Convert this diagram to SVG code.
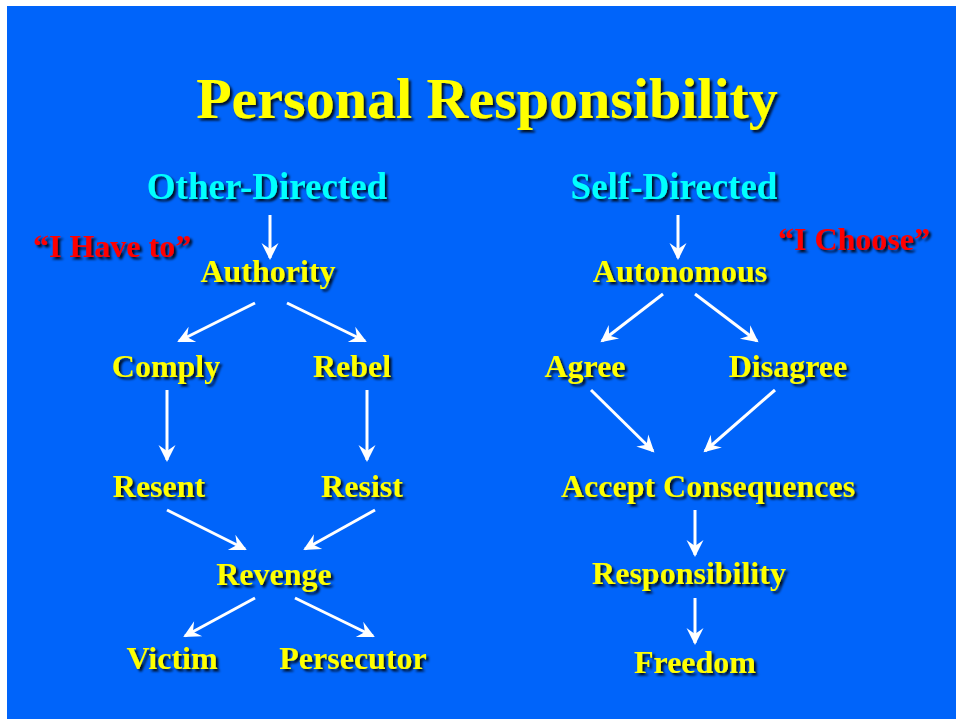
<svg xmlns="http://www.w3.org/2000/svg" width="956" height="719" viewBox="0 0 956 719">
<defs>
<filter id="sh" x="-10%" y="-20%" width="120%" height="150%">
<feDropShadow dx="2.5" dy="2.5" stdDeviation="1" flood-color="#000" flood-opacity="0.85"/>
</filter>
<marker id="ah" viewBox="-20 -10 22 20" markerWidth="22" markerHeight="20" refX="-2" refY="0" orient="auto" markerUnits="userSpaceOnUse">
<path d="M0,0 L-17,-8.5 L-11,0 L-17,8.5 Z" fill="#fff"/>
</marker>
</defs>
<style>
text{font-family:"Liberation Serif","Times New Roman",serif;font-weight:bold;text-anchor:middle;filter:url(#sh)}
.t{font-size:58px;fill:#ffff00}
.h{font-size:37px;fill:#00ffff}
.n{font-size:32px;fill:#ffff00}
.q{font-size:32px;fill:#ff0000;text-anchor:start}
.c line{stroke:#fff;stroke-width:3;marker-end:url(#ah)}
</style>
<rect x="0" y="0" width="956" height="719" fill="#fff"/>
<rect x="7" y="6" width="949" height="713" fill="#0064fa"/>
<g id="title"><text class="t" x="487" y="118">Personal Responsibility</text></g>
<g id="other-directed"><text class="h" x="267" y="199">Other-Directed</text></g>
<g id="self-directed"><text class="h" x="674" y="199">Self-Directed</text></g>
<g id="i-have-to"><text class="q" x="33" y="257">“I Have to”</text></g>
<g id="i-choose"><text class="q" x="778" y="250">“I Choose”</text></g>
<g id="authority"><text class="n" x="268" y="282">Authority</text></g>
<g id="autonomous"><text class="n" x="680" y="282">Autonomous</text></g>
<g id="comply"><text class="n" x="166" y="377">Comply</text></g>
<g id="rebel"><text class="n" x="352" y="377">Rebel</text></g>
<g id="agree"><text class="n" x="585" y="377">Agree</text></g>
<g id="disagree"><text class="n" x="788" y="377">Disagree</text></g>
<g id="resent"><text class="n" x="159" y="497">Resent</text></g>
<g id="resist"><text class="n" x="362" y="497">Resist</text></g>
<g id="accept-consequences"><text class="n" x="708" y="497">Accept Consequences</text></g>
<g id="revenge"><text class="n" x="274" y="585">Revenge</text></g>
<g id="responsibility"><text class="n" x="689" y="584">Responsibility</text></g>
<g id="victim"><text class="n" x="172" y="669">Victim</text></g>
<g id="persecutor"><text class="n" x="353" y="669">Persecutor</text></g>
<g id="freedom"><text class="n" x="695" y="673">Freedom</text></g>
<g id="connectors" class="c">
<line x1="270" y1="215" x2="270" y2="258"/>
<line x1="678" y1="215" x2="678" y2="258"/>
<line x1="255" y1="303" x2="179" y2="341"/>
<line x1="287" y1="303" x2="365" y2="341"/>
<line x1="167" y1="390" x2="167" y2="460"/>
<line x1="367" y1="390" x2="367" y2="460"/>
<line x1="167" y1="510" x2="245" y2="549"/>
<line x1="375" y1="510" x2="305" y2="549"/>
<line x1="255" y1="598" x2="185" y2="636"/>
<line x1="295" y1="598" x2="373" y2="636"/>
<line x1="663" y1="294" x2="602" y2="341"/>
<line x1="695" y1="294" x2="757" y2="341"/>
<line x1="591" y1="390" x2="653" y2="451"/>
<line x1="775" y1="390" x2="705" y2="451"/>
<line x1="695" y1="510" x2="695" y2="555"/>
<line x1="695" y1="598" x2="695" y2="643"/>
</g>
</svg>
